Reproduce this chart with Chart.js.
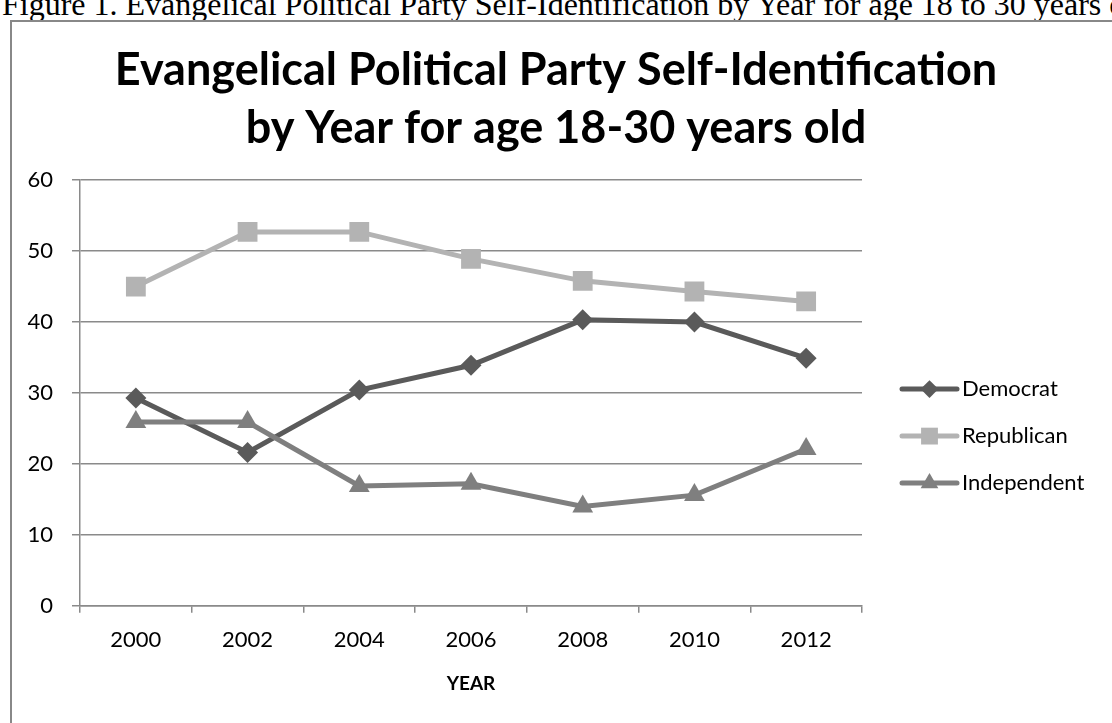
<!DOCTYPE html>
<html>
<head>
<meta charset="utf-8">
<script src="https://cdn.jsdelivr.net/npm/chart.js@4.4.1/dist/chart.umd.min.js"></script>
<style>
    html, body { margin: 0; padding: 0; background: #fff; overflow: hidden; }
    #caption { position: absolute; left: 2px; top: -12px; font-family: "Liberation Serif"; font-size: 32px; white-space: nowrap; color: #000; line-height: 1; }
    #box { position: absolute; left: 10px; top: 20px; width: 1200px; height: 800px; border: 2px solid #888; box-sizing: border-box; }
    #wrap { position: absolute; left: 0; top: 0; width: 1112px; height: 723px; }
</style>
</head>
<body>
<div id="caption">Figure 1. Evangelical Political Party Self-Identification by Year for age 18 to 30 years old</div>
<div id="box"></div>
<div id="wrap"><canvas id="chart" width="1112" height="723"></canvas></div>
<script>
// Données
const years = ["2000", "2002", "2004", "2006", "2008", "2010", "2012"];
const democrat = [29.3, 21.6, 30.4, 33.9, 40.3, 40.0, 34.9];
const republican = [45.0, 52.7, 52.7, 48.9, 45.8, 44.3, 42.9];
const independent = [25.9, 25.9, 16.9, 17.2, 14.0, 15.6, 22.1];
const seriesNames = ["Democrat", "Republican", "Independent"];
const yTicks = [0, 10, 20, 30, 40, 50, 60];

const gridColor = "#8a8a8a";

// Dessine un marqueur (légende)
function drawMarker(ctx, style, x, y, r, color) {
    ctx.fillStyle = color;
    ctx.beginPath();
    if (style === "rectRot") {
        ctx.moveTo(x - r, y);
        ctx.lineTo(x, y - r);
        ctx.lineTo(x + r, y);
        ctx.lineTo(x, y + r);
    } else if (style === "rect") {
        const s = r * Math.SQRT1_2;
        ctx.rect(x - s, y - s, 2 * s, 2 * s);
    } else {
        ctx.moveTo(x, y - r);
        ctx.lineTo(x + r * Math.sin(2 * Math.PI / 3), y + r / 2);
        ctx.lineTo(x - r * Math.sin(2 * Math.PI / 3), y + r / 2);
    }
    ctx.closePath();
    ctx.fill();
}

// Légende à droite: trait + marqueur + texte
const sideLegend = {
    id: "sideLegend",
    afterDraw(chart) {
        const ctx = chart.ctx;
        const area = chart.chartArea;
        const x0 = area.right + 40;
        let y = area.top + 209;
        chart.data.datasets.forEach(ds => {
            ctx.save();
            ctx.strokeStyle = ds.borderColor;
            ctx.lineWidth = ds.borderWidth;
            ctx.lineCap = "round";
            ctx.beginPath();
            ctx.moveTo(x0, y);
            ctx.lineTo(x0 + 55, y);
            ctx.stroke();
            drawMarker(ctx, ds.pointStyle, x0 + 27.5, y, ds.pointRadius * 0.85, ds.pointBackgroundColor);
            ctx.fillStyle = "#000";
            ctx.font = "22px Lato";
            ctx.textBaseline = "middle";
            ctx.fillText(ds.label, x0 + 60, y);
            ctx.restore();
            y += 47;
        });
    }
};

function makeSeries(label, data, color, style, radius, order) {
    return {
        label,
        data,
        borderColor: color,
        backgroundColor: color,
        pointBackgroundColor: color,
        pointBorderColor: color,
        pointBorderWidth: 0,
        borderWidth: 5,
        pointStyle: style,
        pointRadius: radius,
        pointHoverRadius: radius,
        tension: 0,
        order
    };
}

new Chart(document.getElementById("chart").getContext("2d"), {
    type: "line",
    data: {
        labels: years,
        datasets: [
            makeSeries(seriesNames[0], democrat, "#5a5a5a", "rectRot", 10.5, 3),
            makeSeries(seriesNames[1], republican, "#b3b3b3", "rect", 14, 2),
            makeSeries(seriesNames[2], independent, "#7f7f7f", "triangle", 12, 1)
        ]
    },
    options: {
        responsive: false,
        animation: false,
        layout: { padding: { top: 20, right: 0, bottom: 28, left: 0 } },
        plugins: {
            legend: { display: false },
            tooltip: { enabled: false },
            title: {
                display: true,
                text: ["Evangelical Political Party Self-Identification", "by Year for age 18-30 years old"],
                color: "#000",
                font: { family: "Lato", size: 45, weight: "bold", lineHeight: 1.29 },
                padding: { top: 21, bottom: 23 }
            }
        },
        scales: {
            x: {
                offset: true,
                grid: { offset: true, drawOnChartArea: false, drawTicks: true, tickLength: 7, color: gridColor, lineWidth: 1.5 },
                border: { display: true, color: gridColor, width: 1.5 },
                ticks: { color: "#000", font: { family: "Lato", size: 22 }, padding: 14, maxRotation: 0 },
                title: { display: true, text: "YEAR", color: "#000", font: { family: "Lato", size: 19, weight: "bold" }, padding: { top: 5, bottom: 0 } }
            },
            y: {
                min: 0,
                max: 60,
                afterFit(scale) { scale.width = 80; },
                afterBuildTicks(scale) { scale.ticks = yTicks.map(v => ({ value: v })); },
                grid: { color: gridColor, lineWidth: 1.5, tickLength: 8 },
                border: { display: true, color: gridColor, width: 1.5 },
                ticks: { color: "#000", font: { family: "Lato", size: 22 }, padding: 19 }
            },
            // espace réservé pour la légende à droite
            legendSpace: {
                type: "linear",
                position: "right",
                afterFit(scale) { scale.width = 250; },
                grid: { display: false },
                border: { display: false },
                ticks: { display: false }
            }
        }
    },
    plugins: [sideLegend]
});
</script>
</body>
</html>
